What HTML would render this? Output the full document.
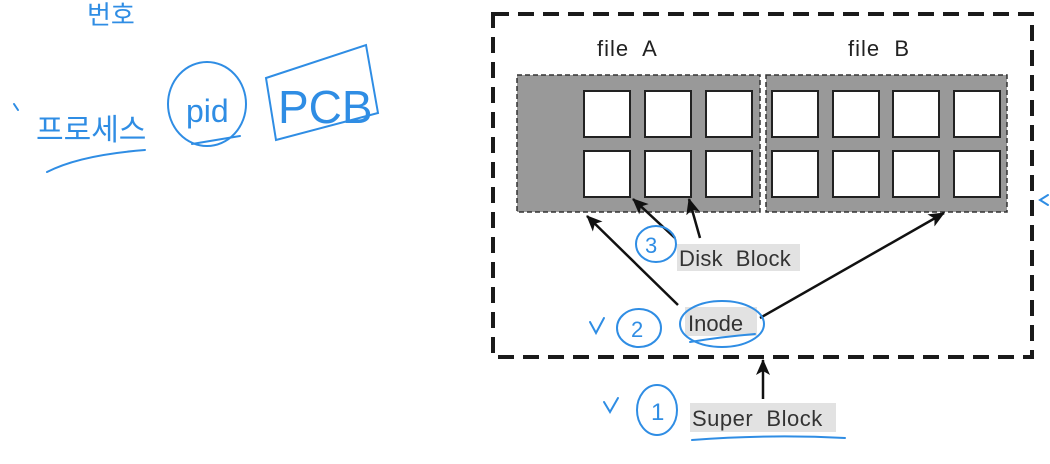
<!DOCTYPE html>
<html><head><meta charset="utf-8"><style>
html,body{margin:0;padding:0;background:#fff;width:1050px;height:464px;overflow:hidden}
svg{display:block}
text{font-family:"Liberation Sans","Noto Sans CJK KR",sans-serif;white-space:pre}
</style></head><body>
<svg width="1050" height="464" viewBox="0 0 1050 464" xmlns="http://www.w3.org/2000/svg" xml:space="preserve">
<defs>
<marker id="ah" markerWidth="16" markerHeight="14" refX="15" refY="7" orient="auto" markerUnits="userSpaceOnUse" viewBox="0 0 16 14">
<path d="M0,0 L16,7 L0,14 L4,7 z" fill="#111"/></marker>
</defs>
<rect x="493" y="14" width="539" height="343" fill="none" stroke="#1a1a1a" stroke-width="4" stroke-dasharray="16,9"/>
<text x="597" y="56" font-size="22" fill="#222" letter-spacing="1">file  A</text>
<text x="848" y="56" font-size="22" fill="#222" letter-spacing="1">file  B</text>
<rect x="517" y="75" width="243" height="137" fill="#999" stroke="#333" stroke-width="1.5" stroke-dasharray="5,3"/>
<rect x="766" y="75" width="241" height="137" fill="#999" stroke="#333" stroke-width="1.5" stroke-dasharray="5,3"/>
<g fill="#fff" stroke="#222" stroke-width="2">
<rect x="584" y="91" width="46" height="46"/><rect x="645" y="91" width="46" height="46"/><rect x="706" y="91" width="46" height="46"/>
<rect x="584" y="151" width="46" height="46"/><rect x="645" y="151" width="46" height="46"/><rect x="706" y="151" width="46" height="46"/>
<rect x="772" y="91" width="46" height="46"/><rect x="833" y="91" width="46" height="46"/><rect x="893" y="91" width="46" height="46"/><rect x="954" y="91" width="46" height="46"/>
<rect x="772" y="151" width="46" height="46"/><rect x="833" y="151" width="46" height="46"/><rect x="893" y="151" width="46" height="46"/><rect x="954" y="151" width="46" height="46"/>
</g>
<rect x="677" y="244" width="123" height="27" fill="#e2e2e2"/>
<text x="679" y="266" font-size="22" fill="#333" letter-spacing="0.3">Disk  Block</text>
<rect x="685" y="307" width="72" height="29" fill="#e2e2e2"/>
<text x="688" y="331" font-size="22" fill="#333">Inode</text>
<rect x="690" y="403" width="146" height="29" fill="#e2e2e2"/>
<text x="692" y="426" font-size="22" fill="#333" letter-spacing="0.5">Super  Block</text>
<g stroke="#111" stroke-width="2.5" fill="none" marker-end="url(#ah)">
<line x1="678" y1="305" x2="587" y2="216"/>
<line x1="675" y1="238" x2="633" y2="199"/>
<line x1="700" y1="238" x2="689" y2="199"/>
<line x1="760" y1="318" x2="944" y2="213"/>
<line x1="763" y1="399" x2="763" y2="360"/>
</g>
<g stroke="#2f8de4" stroke-width="2" fill="none" stroke-linecap="round">
<ellipse cx="656" cy="244" rx="20" ry="18"/>
<ellipse cx="639" cy="328" rx="22" ry="19"/>
<ellipse cx="722" cy="324" rx="42" ry="23"/>
<path d="M690,342 Q720,337 755,334"/>
<ellipse cx="657" cy="410" rx="20" ry="25"/>
<path d="M692,440 Q770,434 845,438"/>
<path d="M590,322 L596,333 L604,318"/>
<path d="M604,402 L610,412 L618,398"/>
<path d="M1048,195 L1040,200 L1048,205"/>
<ellipse cx="207" cy="104" rx="39" ry="42"/>
<path d="M266,78 L366,45 L378,113 L276,140 Z"/>
<path d="M47,172 Q80,155 145,150"/>
<path d="M14,104 L18,110"/>
<path d="M192,144 L240,136"/>
</g>
<text x="87" y="24" font-size="26" fill="#2f8de4">번호</text>
<text x="36" y="140" font-size="30" fill="#2f8de4">프로세스</text>
<text x="186" y="122" font-size="32" fill="#2f8de4">pid</text>
<text x="278" y="123" font-size="46" fill="#2f8de4">PCB</text>
<text x="645" y="253" font-size="22" fill="#2f8de4">3</text>
<text x="631" y="337" font-size="22" fill="#2f8de4">2</text>
<text x="651" y="420" font-size="24" fill="#2f8de4">1</text>
</svg>
</body></html>
